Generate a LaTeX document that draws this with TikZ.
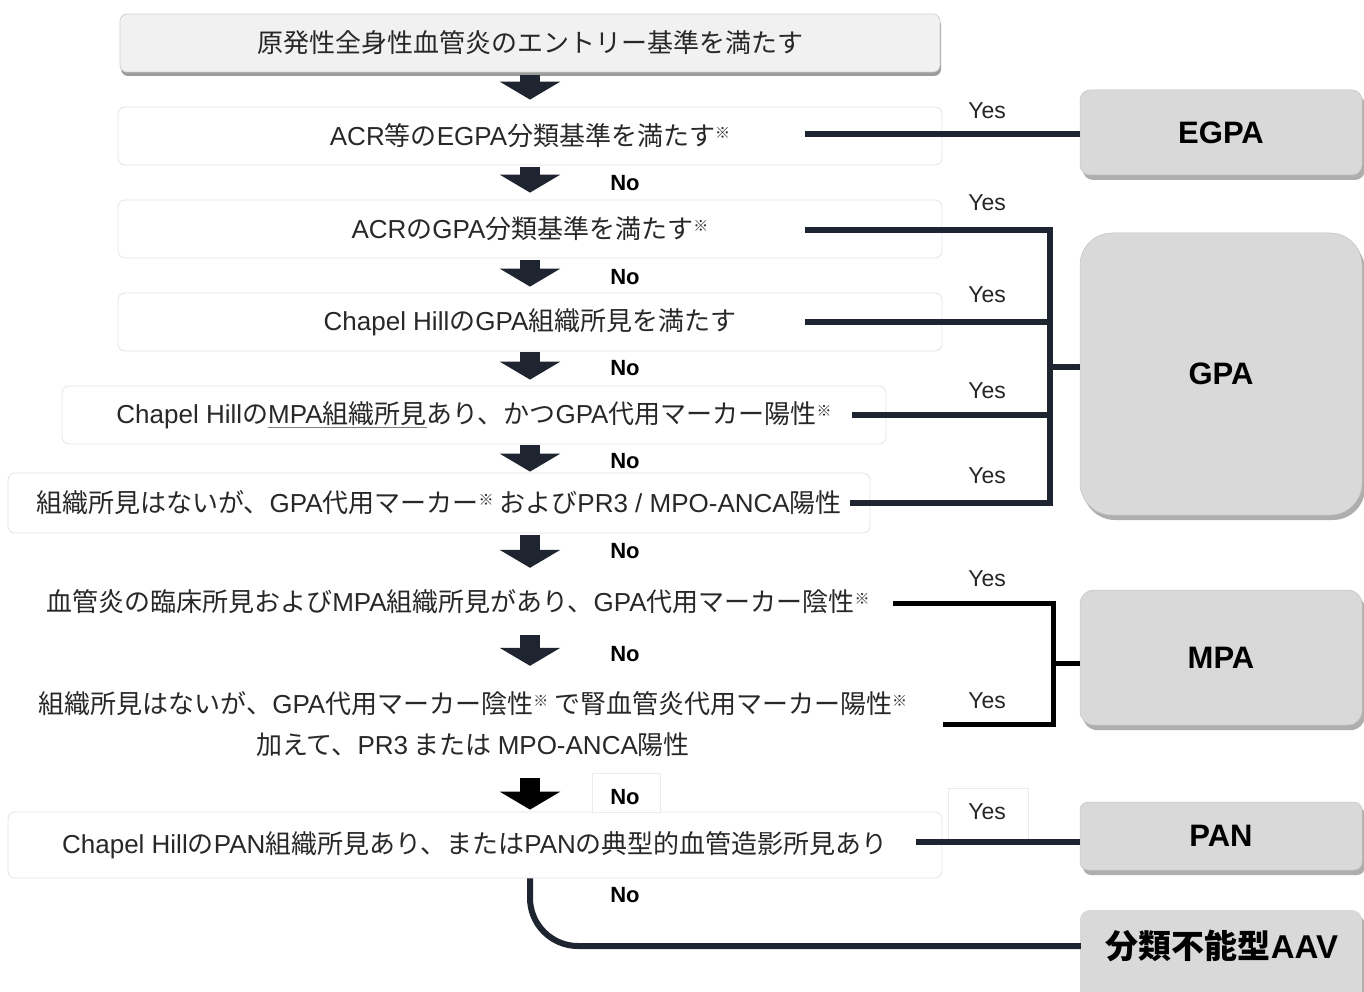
\documentclass[tikz,border=0pt]{standalone}
\usepackage{fontspec}
\setmainfont{Noto Sans CJK JP}
\newfontfamily\lat{Liberation Sans}
\usetikzlibrary{arrows.meta,shadows,calc}
\definecolor{navy}{RGB}{30,36,48}
\definecolor{txt}{RGB}{40,40,40}
\definecolor{bord}{RGB}{228,228,228}
\definecolor{rfill}{RGB}{217,217,217}
\definecolor{topfill}{RGB}{241,241,241}
\newcommand\Lt[1]{{\lat #1}}
\newcommand\kome{\raisebox{0.5ex}{\fontsize{15}{15}\selectfont ※}}
\newcommand\ulgray[1]{{\color{gray}\underline{\textcolor{txt}{#1}}}}
\tikzset{
  qbox/.style={draw=bord, line width=0.8pt, fill=white, rounded corners=7pt,
    text=txt, font=\fontsize{26}{30}\selectfont, inner sep=0pt, minimum height=58pt},
  topbox/.style={qbox, fill=topfill, draw=gray!35,
    drop shadow={shadow xshift=1pt, shadow yshift=-4pt, opacity=0.55, fill=black!70}},
  qtext/.style={text=txt, font=\fontsize{26}{41}\selectfont, inner sep=0pt, align=center},
  rboxbase/.style={fill=rfill, draw=rfill!90!black, line width=0.5pt, minimum width=282pt,
    font=\lat\bfseries\fontsize{31}{36}\selectfont, text=black, inner sep=0pt},
  rshadow/.style={drop shadow={shadow xshift=3pt, shadow yshift=-5pt, opacity=0.45, fill=black!70}},
  rbox/.style={rboxbase, rshadow},
  conn/.style={line width=6pt, draw=navy},
  connb/.style={line width=5pt, draw=black},
  barrow/.style={line width=20pt, draw=navy, -{Triangle[width=60pt, length=18pt]}},
  yeslab/.style={font=\lat\fontsize{23}{26}\selectfont, text=black!85, inner sep=0pt},
  nolab/.style={font=\lat\bfseries\fontsize{22}{26}\selectfont, text=black, inner sep=0pt},
  whitetab/.style={fill=white, draw=black!8, line width=0.8pt},
}
\begin{document}
\begin{tikzpicture}[x=1pt,y=-1pt]
\useasboundingbox (0,0) rectangle (1364,992);
\fill[white] (0,0) rectangle (1364,992);
\coordinate (ax) at (530,0);

% question boxes
\node[topbox, minimum width=820pt] (n1) at (530,43) {原発性全身性血管炎のエントリー基準を満たす};
\node[qbox, minimum width=824pt] (n2) at (530,136) {\Lt{ACR}等の\Lt{EGPA}分類基準を満たす\kome};
\node[qbox, minimum width=824pt] (n3) at (530,229) {\Lt{ACR}の\Lt{GPA}分類基準を満たす\kome};
\node[qbox, minimum width=824pt] (n4) at (530,322) {\Lt{Chapel Hill}の\Lt{GPA}組織所見を満たす};
\node[qbox, minimum width=824pt] (n5) at (474,415) {\Lt{Chapel Hill}の\ulgray{\Lt{MPA}組織所見}あり、かつ\Lt{GPA}代用マーカー陽性\kome};
\node[qbox, minimum width=862pt, minimum height=60pt] (n6) at (439,503) {組織所見はないが、\Lt{GPA}代用マーカー\kome\ および\Lt{PR3 / MPO-ANCA}陽性};
\node[qtext, minimum height=50pt] (n7) at (458,602) {血管炎の臨床所見および\Lt{MPA}組織所見があり、\Lt{GPA}代用マーカー陰性\kome};
\node[qtext, minimum height=80pt] (n8) at (473,724) {組織所見はないが、\Lt{GPA}代用マーカー陰性\kome\ で腎血管炎代用マーカー陽性\kome\\加えて、\Lt{PR3} または \Lt{MPO-ANCA}陽性};
\node[qbox, minimum width=934pt, minimum height=66pt] (n9) at (475,845) {\Lt{Chapel Hill}の\Lt{PAN}組織所見あり、または\Lt{PAN}の典型的血管造影所見あり};

% result boxes
\node[rbox, rounded corners=10pt, minimum height=85pt] (egpa) at (1221,132.5) {EGPA};
\node[rbox, rounded corners=32pt, minimum height=282pt] (gpa) at (1221,374) {GPA};
\node[rbox, rounded corners=14pt, minimum height=135pt] (mpa) at (1221,657.5) {MPA};
\node[rbox, rounded corners=8pt, minimum height=68pt] (pan) at (1221,836) {PAN};
\fill[rfill, rounded corners=10pt, rshadow] (1080,910) rectangle (1362,1010);
\node[rboxbase, fill=none, draw=none, minimum height=72pt, font=\bfseries\fontsize{33}{36}\selectfont] (aav) at (1222,946) {分類不能型\Lt{AAV}};

% block arrows
\draw[barrow, shorten <=3pt, shorten >=7pt] (n1.south -| ax) -- (n2.north -| ax);
\draw[barrow, shorten <=2pt, shorten >=7pt] (n2.south -| ax) -- (n3.north -| ax);
\draw[barrow, shorten <=2pt, shorten >=6pt] (n3.south -| ax) -- (n4.north -| ax);
\draw[barrow, shorten <=1pt, shorten >=6pt] (n4.south -| ax) -- (n5.north -| ax);
\draw[barrow, shorten <=1pt, shorten >=1pt] (n5.south -| ax) -- (n6.north -| ax);
\draw[barrow, shorten <=2pt, shorten >=9pt] (n6.south -| ax) -- (n7.north -| ax);
\draw[barrow, shorten <=8pt, shorten >=18pt] (n7.south -| ax) -- (n8.north -| ax);
\draw[barrow, draw=black, shorten <=14pt, shorten >=2pt] (n8.south -| ax) -- (n9.north -| ax);

% No labels
\node[nolab] (no2) at (625,183) {No};
\node[nolab] (no3) at (625,277) {No};
\node[nolab] (no4) at (625,368) {No};
\node[nolab] (no5) at (625,461) {No};
\node[nolab] (no6) at (625,551) {No};
\node[nolab] (no7) at (625,654) {No};
\node[whitetab, minimum width=68pt, minimum height=39pt, inner sep=0pt] (notab) at (626,792.5) {};
\node[nolab] (no8) at (625,797) {No};
\node[nolab] (no9) at (625,895) {No};

% Yes labels
\node[yeslab] (y2) at (987,111) {Yes};
\node[yeslab] (y3) at (987,203) {Yes};
\node[yeslab] (y4) at (987,295) {Yes};
\node[yeslab] (y5) at (987,391) {Yes};
\node[yeslab] (y6) at (987,476) {Yes};
\node[yeslab] (y7) at (987,579) {Yes};
\node[yeslab] (y8) at (987,701) {Yes};
\node[whitetab, minimum width=80pt, minimum height=52pt, inner sep=0pt] (yestab) at (988,814) {};
\node[yeslab] (y9) at (987,812) {Yes};

% connector start points
\coordinate (s2) at (805,134);
\coordinate (s3) at (805,230);
\coordinate (s4) at (805,322);
\coordinate (s5) at (852,415);
\coordinate (s6) at (850,503);
\coordinate (s7) at (893,603);
\coordinate (s8) at (943,724);
\coordinate (s9) at (916,842);
\coordinate (gx) at (1050,0);
\coordinate (mx) at (1053,0);

% EGPA
\draw[conn] (s2) -- (s2 -| egpa.west);
% GPA bracket
\draw[conn, line join=miter] (s3) -- (s3 -| gx) -- (s6 -| gx) -- (s6);
\draw[conn] (s4) -- (s4 -| gx);
\draw[conn] (s5) -- (s5 -| gx);
\coordinate (gm) at ($(s3 -| gx)!0.5!(s6 -| gx)$);
\draw[conn] (gm) -- (gm -| gpa.west);
% MPA bracket
\draw[connb, line join=miter] (s7) -- (s7 -| mx) -- (s8 -| mx) -- (s8);
\coordinate (mm) at ($(s7 -| mx)!0.5!(s8 -| mx)$);
\draw[connb] (mm) -- (mm -| mpa.west);
% PAN
\draw[conn] (s9) -- (s9 -| pan.west);
% unclassified
\draw[conn, rounded corners=48pt] (n9.south -| ax) |- (aav.west);
\end{tikzpicture}
\end{document}
